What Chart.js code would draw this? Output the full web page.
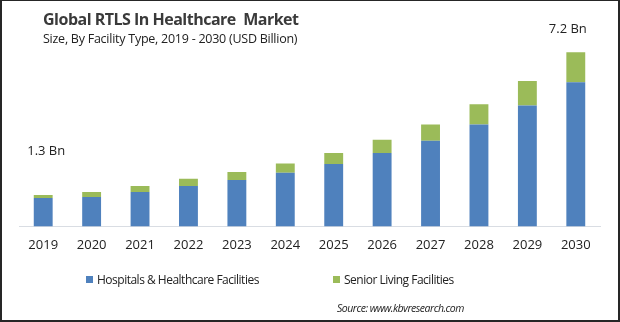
<!DOCTYPE html>
<html lang="en">
<head>
<meta charset="UTF-8" />
<title>Global RTLS In Healthcare Market</title>
<script src="https://cdn.jsdelivr.net/npm/chart.js"></script>
<style>
html, body { margin: 0; padding: 0; background: #fff; }
#frame { position: relative; width: 620px; height: 322px; box-sizing: border-box; border: 2px solid #262626; border-top-width: 1px; overflow: hidden; font-family: "Open Sans", sans-serif; color: #222; }
#chartBox { position: absolute; left: -2px; top: -1px; width: 620px; height: 322px; }
#title { position: absolute; left: 41px; top: 7px; font-size: 16px; font-weight: bold; color: #3a3a3a; letter-spacing: -0.5px; white-space: pre; }
#subtitle { position: absolute; left: 41px; top: 29px; font-size: 12.5px; color: #222; letter-spacing: -0.25px; }
.leg { position: absolute; top: 270px; font-size: 12px; letter-spacing: -0.5px; color: #222; white-space: nowrap; }
.leg span { display: inline-block; width: 7px; height: 7px; margin-right: 4px; vertical-align: 1px; }
#source { position: absolute; left: 335px; top: 300px; font-size: 10.5px; letter-spacing: -0.5px; font-style: italic; color: #222; }
</style>
</head>
<body>
<div id="frame">
  <div id="chartBox"><canvas id="myChart" width="620" height="322"></canvas></div>
  <div id="title">Global RTLS In Healthcare  Market</div>
  <div id="subtitle">Size, By Facility Type, 2019 - 2030 (USD Billion)</div>
  <div class="leg" style="left:84px"><span style="background:#4f81bd"></span>Hospitals &amp; Healthcare Facilities</div>
  <div class="leg" style="left:331px"><span style="background:#9bbb59"></span>Senior Living Facilities</div>
  <div id="source">Source: www.kbvresearch.com</div>
</div>

<script>
const years = ["2019","2020","2021","2022","2023","2024","2025","2026","2027","2028","2029","2030"];
const hospitals = [1.17, 1.22, 1.42, 1.67, 1.92, 2.22, 2.58, 3.04, 3.54, 4.21, 5.00, 5.96];
const seniorLiving = [0.13, 0.20, 0.25, 0.30, 0.33, 0.38, 0.46, 0.54, 0.67, 0.84, 1.01, 1.24];
// bars that get a total label
const calloutBars = [0, 11];

// total label above a bar: [dx, gap above the bar top]
const calloutOffset = { 0: [3, 44], 11: [-8, 23] };

const calloutPlugin = {
  id: 'callouts',
  afterDatasetsDraw(chart) {
    const ctx = chart.ctx;
    const top = chart.getDatasetMeta(1).data;
    ctx.save();
    ctx.font = '13px "Open Sans", sans-serif';
    ctx.fillStyle = '#222';
    ctx.textAlign = 'center';
    ctx.textBaseline = 'middle';
    calloutBars.forEach(i => {
      const bar = top[i];
      const [dx, gap] = calloutOffset[i];
      const total = hospitals[i] + seniorLiving[i];
      ctx.fillText(total.toFixed(1) + ' Bn', bar.x + dx, bar.y - gap);
    });
    ctx.restore();
  }
};

new Chart(document.getElementById('myChart'), {
  type: 'bar',
  data: {
    labels: years,
    datasets: [
      { label: 'Hospitals & Healthcare Facilities', data: hospitals, backgroundColor: '#4f81bd' },
      { label: 'Senior Living Facilities', data: seniorLiving, backgroundColor: '#9bbb59' }
    ]
  },
  options: {
    responsive: false,
    animation: false,
    barPercentage: 0.39,
    categoryPercentage: 1,
    layout: { padding: { top: 33, left: 19, right: 20, bottom: 58 } },
    plugins: { legend: { display: false }, tooltip: { enabled: false } },
    scales: {
      x: {
        stacked: true,
        grid: { display: false, drawTicks: false },
        border: { display: true, color: '#d9dde3', width: 1 },
        ticks: { padding: 11, color: '#222', font: { family: 'Open Sans', size: 13 } }
      },
      y: { stacked: true, display: false, min: 0, max: 8 }
    }
  },
  plugins: [calloutPlugin]
});
</script>
</body>
</html>
